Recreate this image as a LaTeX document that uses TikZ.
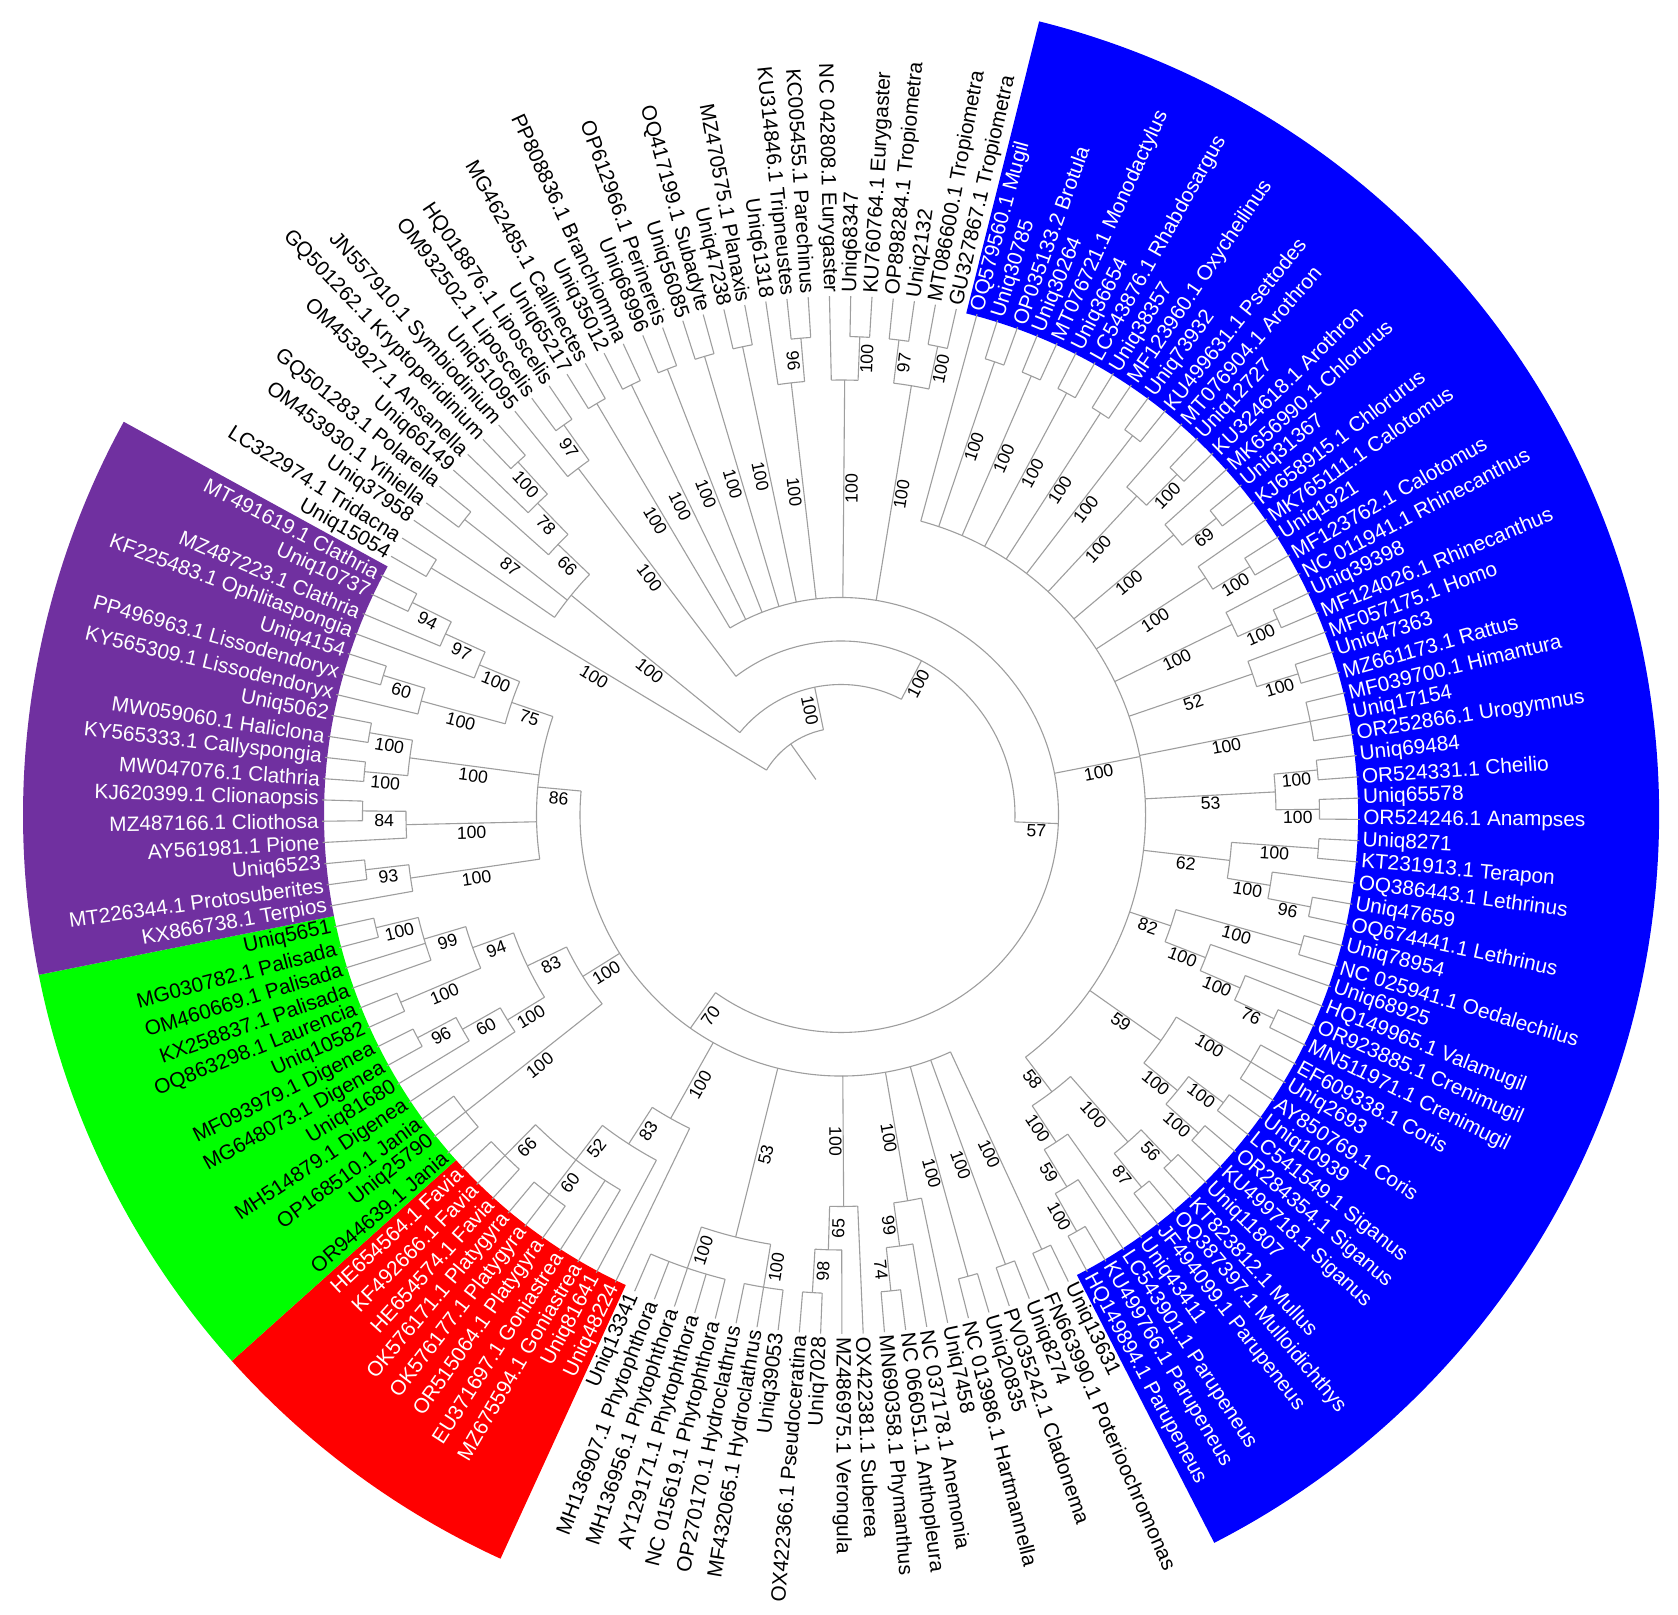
\documentclass[tikz,border=0pt]{standalone}
\usepackage{fontspec}
\setmainfont{Liberation Sans}
\definecolor{cblue}{RGB}{0,0,255}
\definecolor{cpurple}{RGB}{112,48,160}
\definecolor{cgreen}{RGB}{0,255,0}
\definecolor{cred}{RGB}{255,0,0}
\tikzset{
  br/.style={draw=black!38, line width=0.55pt},
  sup/.style={font=\fontsize{8.8}{10}\selectfont, text=black, inner sep=0.6pt},
  leaflab/.style={font=\fontsize{10.4}{12}\selectfont, inner sep=0pt},
}
\newcommand\setnode[4]{%
  \expandafter\xdef\csname nA@#1\endcsname{#2}%
  \expandafter\xdef\csname nR@#1\endcsname{#3}%
  \expandafter\gdef\csname nL@#1\endcsname{#4}}
\newcommand\suplab[4]{%
  \pgfmathtruncatemacro\sside{cos(#2)>=0 ? 1 : 0}%
  \ifnum\sside=1
    \node[sup, rotate=#2, anchor=north] (#1) at (#2:#3) {#4};%
  \else
    \pgfmathsetmacro\srot{#2+180}%
    \node[sup, rotate=\srot, anchor=north, inner sep=1.4pt] (#1) at (#2:#3) {#4};%
  \fi}
\newcommand\IN[4]{%
  \gdef\firstA{}%
  \foreach \chn in {#4} {%
    \edef\cang{\csname nA@\chn\endcsname}%
    \ifx\firstA\empty\xdef\firstA{\cang}\fi
    \xdef\lastA{\cang}%
  }%
  \pgfmathsetmacro\nang{(\firstA+\lastA)/2}%
  \setnode{#1}{\nang}{#2}{#3}%
  \coordinate (#1) at (\nang:#2);%
  \draw[br] (\firstA:#2) arc[start angle=\firstA, end angle=\lastA, radius=#2];%
  \foreach \chn in {#4} {%
    \edef\cang{\csname nA@\chn\endcsname}%
    \edef\crad{\csname nR@\chn\endcsname}%
    \draw[br] (\chn) -- (\cang:#2);%
    \expandafter\let\expandafter\clab\csname nL@\chn\endcsname
    \ifx\clab\empty\else
      \pgfmathsetmacro\lrad{(\crad+#2)/2}%
      \suplab{s\chn}{\cang}{\lrad}{\clab}%
    \fi
  }%
}
\begin{document}
\begin{tikzpicture}[x=0.5pt,y=0.5pt]
\path[use as bounding box] (-841,-800) rectangle (837,815);
\fill[white] (-841,-800) rectangle (837,815);
% coloured sectors
\fill[cblue] (75.98:517) arc[start angle=75.98, end angle=-62.85, radius=517] -- (-62.85:818) arc[start angle=-62.85, end angle=75.98, radius=818] -- cycle;
\fill[cred] (-114.60:517) arc[start angle=-114.60, end angle=-138.13, radius=517] -- (-138.13:818) arc[start angle=-138.13, end angle=-114.60, radius=818] -- cycle;
\fill[cgreen] (-138.13:517) arc[start angle=-138.13, end angle=-168.73, radius=517] -- (-168.73:818) arc[start angle=-168.73, end angle=-138.13, radius=818] -- cycle;
\fill[cpurple] (-168.73:517) arc[start angle=-168.73, end angle=-208.73, radius=517] -- (-208.73:818) arc[start angle=-208.73, end angle=-168.73, radius=818] -- cycle;
% leaves
\foreach \ii/\lt in {
1/Uniq15054,
2/LC322974.1 Tridacna,
3/Uniq37958,
4/OM453930.1 Yihiella,
5/GQ501283.1 Polarella,
6/Uniq66149,
7/OM453927.1 Ansanella,
8/GQ501262.1 Kryptoperidinium,
9/JN557910.1 Symbiodinium,
10/Uniq51095,
11/OM932502.1 Liposcelis,
12/HQ018876.1 Liposcelis,
13/Uniq65217,
14/MG462485.1 Callinectes,
15/Uniq35012,
16/PP808836.1 Branchiomma,
17/Uniq68996,
18/OP612966.1 Perinereis,
19/Uniq56085,
20/OQ417199.1 Subadyte,
21/Uniq47238,
22/MZ470575.1 Planaxis,
23/Uniq61318,
24/KU314846.1 Tripneustes,
25/KC005455.1 Parechinus,
26/NC 042808.1 Eurygaster,
27/Uniq68347,
28/KU760764.1 Eurygaster,
29/OP898284.1 Tropiometra,
30/Uniq2132,
31/MT086600.1 Tropiometra,
32/GU327867.1 Tropiometra,
33/OQ579560.1 Mugil,
34/Uniq30785,
35/OP035133.2 Brotula,
36/Uniq30264,
37/MT076721.1 Monodactylus,
38/Uniq36654,
39/LC543876.1 Rhabdosargus,
40/Uniq38357,
41/MF123960.1 Oxycheilinus,
42/Uniq73932,
43/KU499631.1 Psettodes,
44/MT076904.1 Arothron,
45/Uniq12727,
46/KU324618.1 Arothron,
47/MK656990.1 Chlorurus,
48/Uniq31367,
49/KJ658915.1 Chlorurus,
50/MK765111.1 Calotomus,
51/Uniq1921,
52/MF123762.1 Calotomus,
53/NC 011941.1 Rhinecanthus,
54/Uniq39398,
55/MF124026.1 Rhinecanthus,
56/MF057175.1 Homo,
57/Uniq47363,
58/MZ661173.1 Rattus,
59/MF039700.1 Himantura,
60/Uniq17154,
61/OR252866.1 Urogymnus,
62/Uniq69484,
63/OR524331.1 Cheilio,
64/Uniq65578,
65/OR524246.1 Anampses,
66/Uniq8271,
67/KT231913.1 Terapon,
68/OQ386443.1 Lethrinus,
69/Uniq47659,
70/OQ674441.1 Lethrinus,
71/Uniq78954,
72/NC 025941.1 Oedalechilus,
73/Uniq68925,
74/HQ149965.1 Valamugil,
75/OR923885.1 Crenimugil,
76/MN511971.1 Crenimugil,
77/EF609338.1 Coris,
78/Uniq2693,
79/AY850769.1 Coris,
80/Uniq10939,
81/LC541549.1 Siganus,
82/OR284354.1 Siganus,
83/KU499718.1 Siganus,
84/Uniq11807,
85/KT823812.1 Mullus,
86/OQ387397.1 Mulloidichthys,
87/JF494099.1 Parupeneus,
88/Uniq43411,
89/LC543901.1 Parupeneus,
90/KU499766.1 Parupeneus,
91/HQ149894.1 Parupeneus,
92/Uniq13631,
93/FN663990.1 Poterioochromonas,
94/Uniq8274,
95/PV035242.1 Cladonema,
96/Uniq20835,
97/NC 013986.1 Hartmannella,
98/Uniq7458,
99/NC 037178.1 Anemonia,
100/NC 066051.1 Anthopleura,
101/MN690358.1 Phymanthus,
102/OX422381.1 Suberea,
103/MZ486975.1 Verongula,
104/Uniq7028,
105/OX422366.1 Pseudoceratina,
106/Uniq39053,
107/MF432065.1 Hydroclathrus,
108/OP270170.1 Hydroclathrus,
109/NC 015619.1 Phytophthora,
110/AY129171.1 Phytophthora,
111/MH136956.1 Phytophthora,
112/MH136907.1 Phytophthora,
113/Uniq13341,
114/Uniq48224,
115/Uniq81641,
116/MZ675594.1 Goniastrea,
117/EU371697.1 Goniastrea,
118/OR515064.1 Platygyra,
119/OK576177.1 Platygyra,
120/OK576171.1 Platygyra,
121/HE654574.1 Favia,
122/KF492666.1 Favia,
123/HE654564.1 Favia,
124/OR944639.1 Jania,
125/Uniq25790,
126/OP168510.1 Jania,
127/MH514879.1 Digenea,
128/Uniq81680,
129/MG648073.1 Digenea,
130/MF093979.1 Digenea,
131/Uniq10582,
132/OQ863298.1 Laurencia,
133/KX258837.1 Palisada,
134/OM460669.1 Palisada,
135/MG030782.1 Palisada,
136/Uniq5651,
137/KX866738.1 Terpios,
138/MT226344.1 Protosuberites,
139/Uniq6523,
140/AY561981.1 Pione,
141/MZ487166.1 Cliothosa,
142/KJ620399.1 Clionaopsis,
143/MW047076.1 Clathria,
144/KY565333.1 Callyspongia,
145/MW059060.1 Haliclona,
146/Uniq5062,
147/KY565309.1 Lissodendoryx,
148/PP496963.1 Lissodendoryx,
149/Uniq4154,
150/KF225483.1 Ophlitaspongia,
151/MZ487223.1 Clathria,
152/Uniq10737,
153/MT491619.1 Clathria} {
  \pgfmathsetmacro\la{150.1-(\ii-1)*2.352941}
  \setnode{L\ii}{\la}{519}{}
  \coordinate (L\ii) at (\la:519);
  \ifnum\ii<33 \def\tcol{black}\else\ifnum\ii<92 \def\tcol{white}\else\ifnum\ii<114 \def\tcol{black}\else\ifnum\ii<124 \def\tcol{white}\else\ifnum\ii<137 \def\tcol{black}\else\def\tcol{white}\fi\fi\fi\fi\fi
  \pgfmathtruncatemacro\sside{cos(\la)>=0 ? 1 : 0}
  \ifnum\sside=1
    \node[leaflab, text=\tcol, rotate=\la, anchor=west] (T\ii) at (\la:522) {\lt};
  \else
    \pgfmathsetmacro\srot{\la+180}
    \node[leaflab, text=\tcol, rotate=\srot, anchor=east] (T\ii) at (\la:522) {\lt};
  \fi
}
% ---- top-left
\IN{c12}{478.5}{100}{L1,L2}
\IN{c45}{478.5}{87}{L4,L5}
\IN{c89}{478.5}{100}{L8,L9}
\IN{n78}{435}{78}{L7,c89}
\IN{n66}{391.5}{66}{L6,n78}
\IN{r2a}{348}{100}{L3,c45,n66}
\IN{c1112}{478.5}{97}{L11,L12}
\IN{c1}{435}{100}{L10,c1112}
\IN{c1314}{478.5}{100}{L13,L14}
\IN{c1516}{478.5}{100}{L15,L16}
\IN{c1718}{478.5}{100}{L17,L18}
\IN{c1920}{478.5}{100}{L19,L20}
\IN{c2122}{478.5}{100}{L21,L22}
\IN{c2425}{478.5}{96}{L24,L25}
\IN{n2325}{435}{100}{L23,c2425}
\IN{c2728}{478.5}{100}{L27,L28}
\IN{n2628}{435}{100}{L26,c2728}
\IN{c2930}{478.5}{97}{L29,L30}
\IN{c3132}{478.5}{100}{L31,L32}
\IN{n2932}{435}{100}{c2930,c3132}
% ---- blue
\IN{c3435}{478.5}{100}{L34,L35}
\IN{c3637}{478.5}{100}{L36,L37}
\IN{c3839}{478.5}{100}{L38,L39}
\IN{c4041}{478.5}{100}{L40,L41}
\IN{c4243}{478.5}{100}{L42,L43}
\IN{c4546}{478.5}{100}{L45,L46}
\IN{xa}{435}{100}{L44,c4546}
\IN{c4849}{478.5}{69}{L48,L49}
\IN{xb}{435}{100}{L47,c4849}
\IN{c5152}{478.5}{100}{L51,L52}
\IN{xc}{435}{100}{L50,c5152}
\IN{c5455}{478.5}{100}{L54,L55}
\IN{xd}{435}{100}{L53,c5455}
\IN{c5758}{478.5}{100}{L57,L58}
\IN{xe}{435}{52}{L56,c5758}
\IN{xf}{478.5}{100}{L59,L60,L61}
\IN{c6263}{478.5}{100}{L62,L63}
\IN{c6465}{478.5}{100}{L64,L65}
\IN{n53}{435}{53}{c6263,c6465}
\IN{c6667}{478.5}{100}{L66,L67}
\IN{c6970}{478.5}{96}{L69,L70}
\IN{n6870}{435}{100}{L68,c6970}
\IN{n62}{391.5}{62}{c6667,n6870}
\IN{c7172}{478.5}{100}{L71,L72}
\IN{c7576}{478.5}{76}{L75,L76}
\IN{nz}{435}{100}{L74,c7576}
\IN{ny}{391.5}{100}{L73,nz}
\IN{n82}{348}{82}{c7172,ny}
\IN{t7779}{478.5}{100}{L77,L78,L79}
\IN{c8081}{478.5}{100}{L80,L81}
\IN{c8283}{478.5}{100}{L82,L83}
\IN{nk}{435}{100}{c8081,c8283}
\IN{n59}{391.5}{59}{t7779,nk}
\IN{c8485}{478.5}{56}{L84,L85}
\IN{c8687}{478.5}{87}{L86,L87}
\IN{naa}{435}{100}{c8485,c8687}
\IN{c9091}{478.5}{100}{L90,L91}
\IN{nac}{435}{59}{L89,c9091}
\IN{nab}{391.5}{100}{L88,nac}
\IN{n58}{348}{58}{naa,nab}
\IN{bb}{304.5}{100}{L33,c3435,c3637,c3839,c4041,c4243,xa,xb,xc,xd,xe,xf,n53,n62,n82,n59,n58}
% ---- bottom white
\IN{c9293}{478.5}{100}{L92,L93}
\IN{c9495}{478.5}{100}{L94,L95}
\IN{c9697}{478.5}{100}{L96,L97}
\IN{c100101}{478.5}{74}{L100,L101}
\IN{nbb}{435}{99}{L99,c100101}
\IN{nbc}{391.5}{100}{L98,nbb}
\IN{c104105}{478.5}{98}{L104,L105}
\IN{ndb}{435}{65}{L103,c104105}
\IN{ndc}{391.5}{100}{L102,ndb}
\IN{nea}{478.5}{100}{L106,L107,L108}
\IN{neb}{478.5}{100}{L109,L110,L111,L112,L113}
\IN{nec}{435}{53}{nea,neb}
% ---- red
\IN{t118}{478.5}{60}{L118,L119,L120}
\IN{t121}{478.5}{66}{L121,L122,L123}
\IN{n52}{435}{52}{L116,L117,t118,t121}
\IN{n83r}{391.5}{83}{L115,n52}
\IN{nred}{348}{100}{L114,n83r}
% ---- green
\IN{t124}{478.5}{100}{L124,L125,L126}
\IN{c129130}{478.5}{96}{L129,L130}
\IN{n60g}{435}{60}{L128,c129130}
\IN{nq}{391.5}{100}{L127,n60g}
\IN{c131132}{478.5}{100}{L131,L132}
\IN{c135136}{478.5}{100}{L135,L136}
\IN{n99}{435}{99}{L133,L134,c135136}
\IN{n94}{391.5}{94}{c131132,n99}
\IN{n83g}{348}{83}{nq,n94}
\IN{gr}{304.5}{100}{t124,n83g}
% ---- purple
\IN{c138139}{478.5}{93}{L138,L139}
\IN{wc}{435}{100}{L137,c138139}
\IN{c141142}{478.5}{84}{L141,L142}
\IN{wb}{435}{100}{L140,c141142}
\IN{c143144}{478.5}{100}{L143,L144}
\IN{c145146}{478.5}{100}{L145,L146}
\IN{wa}{435}{100}{c143144,c145146}
\IN{c148149}{478.5}{60}{L148,L149}
\IN{qp}{435}{100}{L147,c148149}
\IN{c152153}{478.5}{94}{L152,L153}
\IN{pa}{435}{97}{L151,c152153}
\IN{pb}{391.5}{100}{L150,pa}
\IN{pc}{348}{75}{qp,pb}
\IN{pur}{304.5}{86}{wc,wb,wa,pc}
% ---- backbone
\IN{n70}{261}{70}{c9293,c9495,c9697,nbc,ndc,nec,nred,gr,pur}
\IN{n57}{217.5}{57}{c1314,c1516,c1718,c1920,c2122,n2325,n2628,n2932,bb,n70}
\IN{r2b}{174}{100}{c1,n57}
\IN{r2}{130.5}{100}{r2a,r2b}
\IN{root}{87}{}{c12,r2}
\edef\rootang{\csname nA@root\endcsname}
\coordinate (rootbase) at (\rootang:43.5);
\draw[br] (rootbase) -- (root);
\end{tikzpicture}
\end{document}
